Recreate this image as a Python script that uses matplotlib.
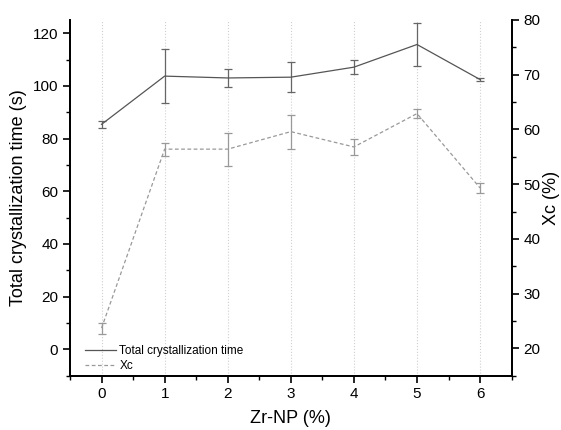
import matplotlib
matplotlib.use("Agg")
import matplotlib.pyplot as plt
from matplotlib.ticker import MultipleLocator

plt.rcParams['font.family'] = ['Liberation Sans', 'DejaVu Sans']

zr_np = [0, 1, 2, 3, 4, 5, 6]
total_time = [85.4, 103.7, 103.0, 103.3, 107.1, 115.7, 102.4]
total_err = [1.3, 10.2, 3.5, 5.6, 2.7, 8.1, 0.5]
xc = [23.7, 56.4, 56.4, 59.6, 56.8, 62.9, 49.3]
xc_err = [1.0, 1.2, 3.0, 3.1, 1.5, 0.9, 1.0]

fig = plt.figure(figsize=(5.61, 4.30), dpi=100)
ax = fig.add_axes([0.1248, 0.1263, 0.7872, 0.8272])
ax2 = ax.twinx()

for x in zr_np:
    ax.axvline(x, color='#d0d0d0', lw=0.8, ls=':', zorder=0)

l1 = ax.errorbar(zr_np, total_time, yerr=total_err, color='#555555', lw=0.9,
                 ecolor='#666666', elinewidth=0.9, capsize=3, capthick=0.9,
                 label='Total crystallization time')
l2 = ax2.errorbar(zr_np, xc, yerr=xc_err, color='#999999', lw=0.9, ls=(0, (3, 2)),
                  ecolor='#999999', elinewidth=0.9, capsize=3, capthick=0.9,
                  label='Xc')

ax.set_xlim(-0.5, 6.5)
ax.set_ylim(-10, 125)
ax2.set_ylim(15, 80)

ax.xaxis.set_major_locator(MultipleLocator(1))
ax.xaxis.set_minor_locator(MultipleLocator(0.5))
ax.yaxis.set_major_locator(MultipleLocator(20))
ax.yaxis.set_minor_locator(MultipleLocator(10))
ax2.yaxis.set_major_locator(MultipleLocator(10))
ax2.yaxis.set_minor_locator(MultipleLocator(5))

for a in (ax, ax2):
    a.spines['top'].set_visible(False)
    for s in a.spines.values():
        s.set_linewidth(1.3)
    a.tick_params(which='major', direction='out', length=5, width=1.2, labelsize=11, colors='black')
    a.tick_params(which='minor', direction='out', length=3, width=1.0)

ax.set_xlabel('Zr-NP (%)', fontsize=13, labelpad=6)
ax.set_ylabel('Total crystallization time (s)', fontsize=13)
ax2.set_ylabel('Xc (%)', fontsize=13, labelpad=2)

handles = [l1[0], l2[0]]
labels = ['Total crystallization time', 'Xc']
ax.legend(handles, labels, loc='lower left', bbox_to_anchor=(0.01, -0.02),
          frameon=False, fontsize=8.5, handlelength=2.6, handletextpad=0.3,
          labelspacing=0.25)

fig.savefig('out.png', dpi=100)
